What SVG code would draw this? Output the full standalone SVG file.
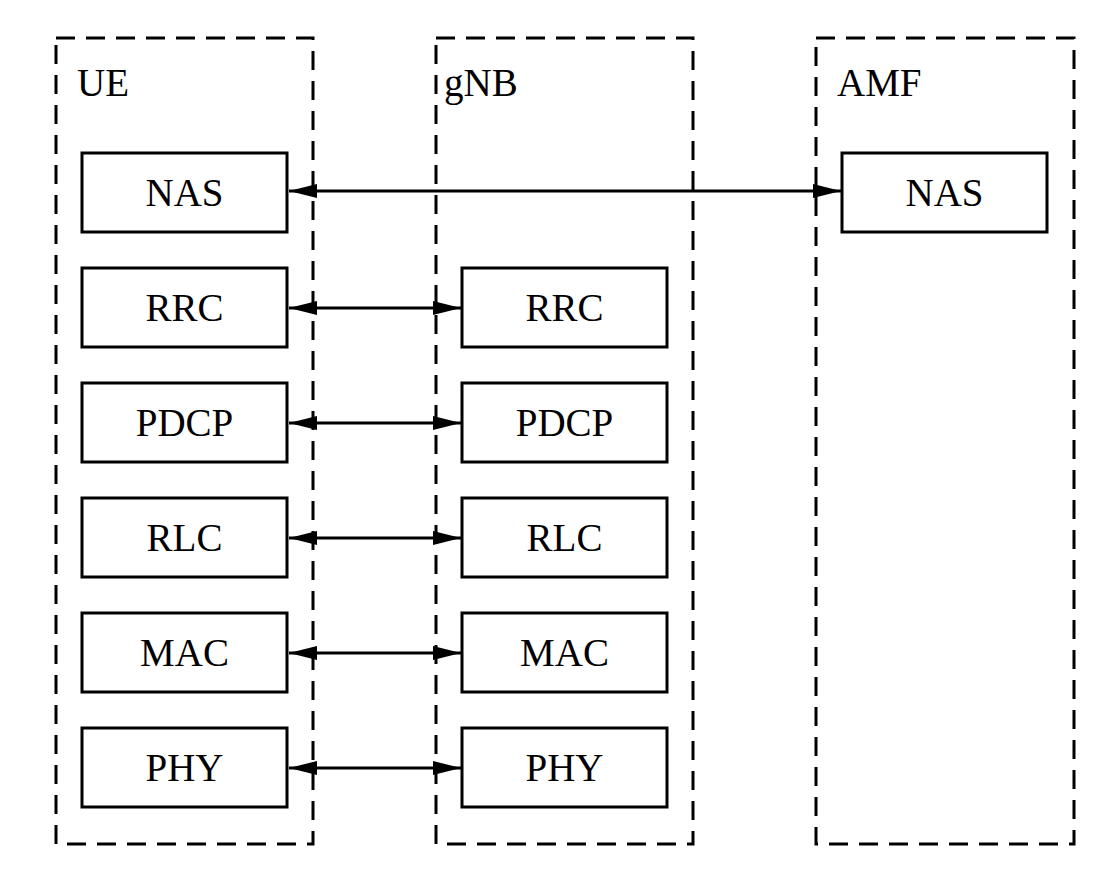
<svg xmlns="http://www.w3.org/2000/svg" width="1120" height="873" viewBox="0 0 1120 873">
<style>
.grp{fill:none;stroke:#000;stroke-width:3;stroke-dasharray:19 11}
.box{fill:#fff;stroke:#000;stroke-width:3}
.t{font-family:"Liberation Serif",serif;font-size:39px;fill:#000}
.c{text-anchor:middle}
.ln{stroke:#000;stroke-width:3;fill:none;marker-start:url(#ah);marker-end:url(#ah)}
</style>
<defs>
<marker id="ah" viewBox="0 0 28 14" refX="28" refY="7" markerWidth="28" markerHeight="14" markerUnits="userSpaceOnUse" orient="auto-start-reverse">
<path d="M0,0 L28,7 L0,14 Z" fill="#000"/>
</marker>
</defs>
<g id="ue">
<rect class="grp" x="56" y="38" width="257" height="806"/>
<text class="t" x="77" y="96">UE</text>
</g>
<g id="gnb">
<rect class="grp" x="436" y="38" width="257" height="806"/>
<text class="t" x="444" y="96">gNB</text>
</g>
<g id="amf">
<rect class="grp" x="816" y="38" width="258" height="806"/>
<text class="t" x="837" y="96">AMF</text>
</g>
<g id="ue-nas"><rect class="box" x="82" y="153" width="205" height="79"/><text class="t c" x="184.5" y="206">NAS</text></g>
<g id="ue-rrc"><rect class="box" x="82" y="268" width="205" height="79"/><text class="t c" x="184.5" y="321">RRC</text></g>
<g id="ue-pdcp"><rect class="box" x="82" y="383" width="205" height="79"/><text class="t c" x="184.5" y="436">PDCP</text></g>
<g id="ue-rlc"><rect class="box" x="82" y="498" width="205" height="79"/><text class="t c" x="184.5" y="551">RLC</text></g>
<g id="ue-mac"><rect class="box" x="82" y="613" width="205" height="79"/><text class="t c" x="184.5" y="666">MAC</text></g>
<g id="ue-phy"><rect class="box" x="82" y="728" width="205" height="79"/><text class="t c" x="184.5" y="781">PHY</text></g>
<g id="gnb-rrc"><rect class="box" x="462" y="268" width="205" height="79"/><text class="t c" x="564.5" y="321">RRC</text></g>
<g id="gnb-pdcp"><rect class="box" x="462" y="383" width="205" height="79"/><text class="t c" x="564.5" y="436">PDCP</text></g>
<g id="gnb-rlc"><rect class="box" x="462" y="498" width="205" height="79"/><text class="t c" x="564.5" y="551">RLC</text></g>
<g id="gnb-mac"><rect class="box" x="462" y="613" width="205" height="79"/><text class="t c" x="564.5" y="666">MAC</text></g>
<g id="gnb-phy"><rect class="box" x="462" y="728" width="205" height="79"/><text class="t c" x="564.5" y="781">PHY</text></g>
<g id="amf-nas"><rect class="box" x="842" y="153" width="205" height="79"/><text class="t c" x="944.5" y="206">NAS</text></g>
<g id="connectors">
<line class="ln" x1="289" y1="191" x2="841" y2="191"/>
<line class="ln" x1="289" y1="308" x2="461" y2="308"/>
<line class="ln" x1="289" y1="423" x2="461" y2="423"/>
<line class="ln" x1="289" y1="538" x2="461" y2="538"/>
<line class="ln" x1="289" y1="653" x2="461" y2="653"/>
<line class="ln" x1="289" y1="768" x2="461" y2="768"/>
</g>
</svg>
